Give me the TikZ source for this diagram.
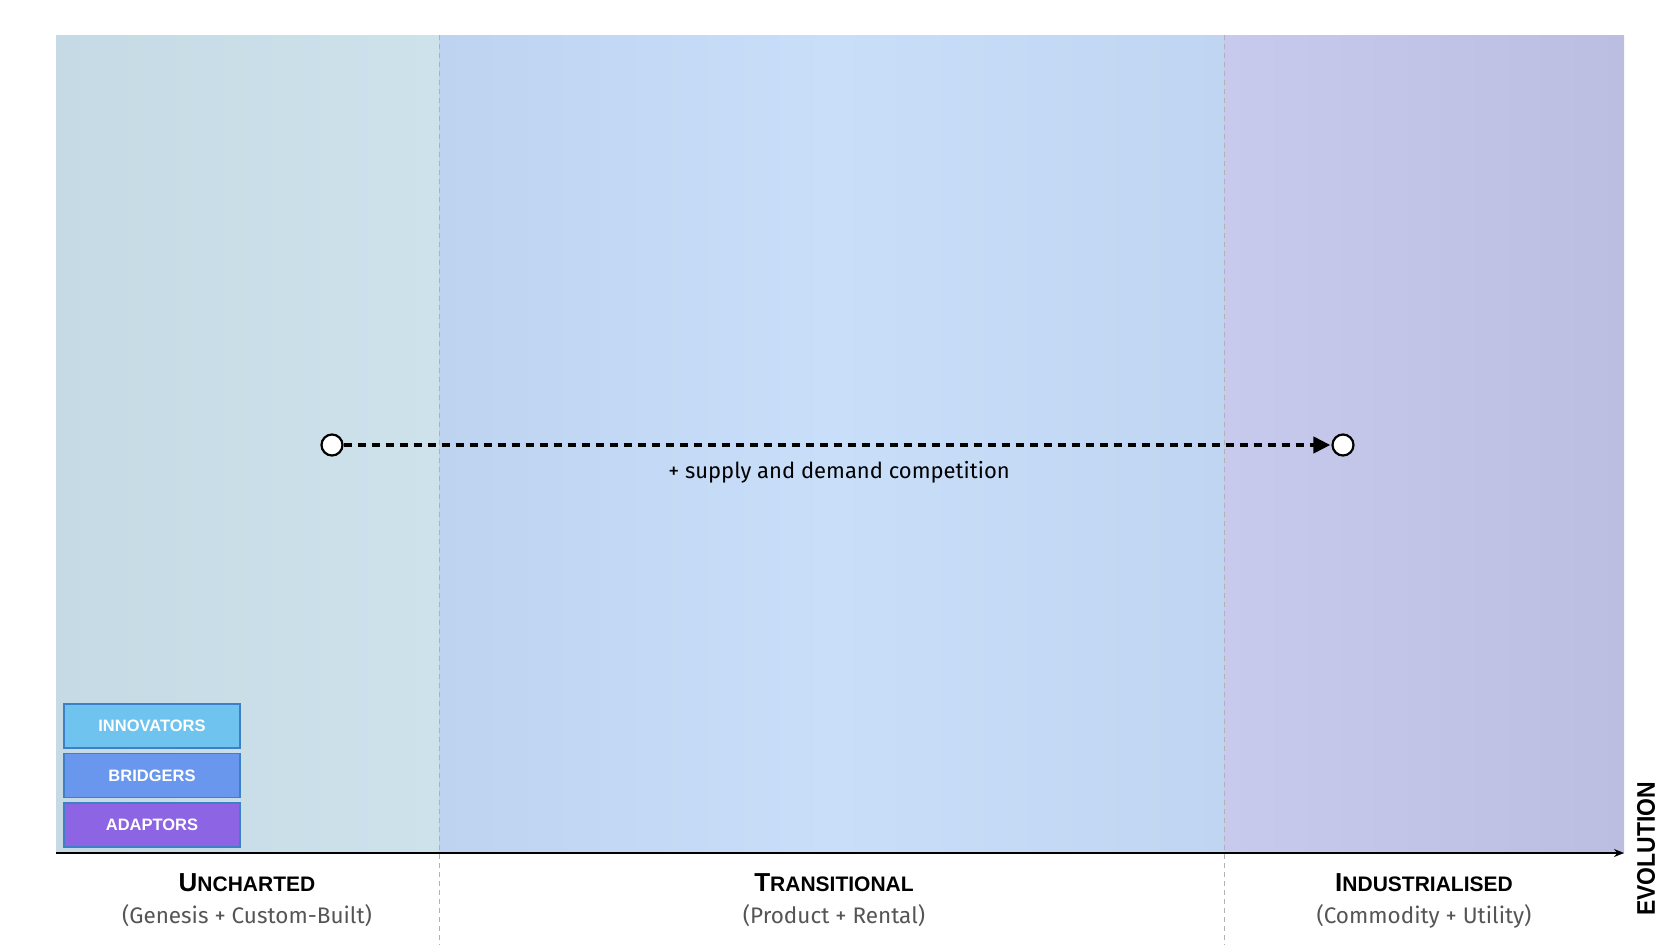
\documentclass[tikz,border=0pt]{standalone}
\usepackage{fontspec}
\setmainfont{Liberation Sans}
\newfontfamily\subfont{Fira Sans}
\usetikzlibrary{arrows.meta, positioning}
\definecolor{cUnchL}{RGB}{198,218,229}
\definecolor{cUnchR}{RGB}{206,226,236}
\definecolor{cTranL}{RGB}{190,211,240}
\definecolor{cTranM}{RGB}{200,222,249}
\definecolor{cTranR}{RGB}{192,213,241}
\definecolor{cIndL}{RGB}{199,201,237}
\definecolor{cIndR}{RGB}{188,190,225}
\definecolor{cInnov}{RGB}{110,196,238}
\definecolor{cBridge}{RGB}{106,151,238}
\definecolor{cAdapt}{RGB}{140,100,228}
\definecolor{cEdge}{RGB}{62,128,200}
\definecolor{cSub}{RGB}{85,85,85}
\newcommand{\fakesc}[2]{{\fontsize{26}{26}\selectfont #1}{\fontsize{21}{21}\selectfont #2}}
\tikzset{
	party/.style  ={rectangle, draw=cEdge, line width=1.5pt, minimum width=176pt, minimum height=44pt, inner sep=0pt,
		text=white, font=\fontsize{16.5}{16.5}\selectfont\bfseries},
	stage/.style  ={font=\bfseries, inner sep=0pt, text=black},
	stagesub/.style={font=\subfont\fontsize{22.5}{22.5}\selectfont, text=cSub, inner sep=0pt},
	divider/.style={draw=black!30, line width=1pt, dash pattern=on 5pt off 4pt},
	ring/.style   ={circle, draw=black, line width=2.2pt, fill=white, minimum size=21pt, inner sep=0pt},
	flowarrow/.style={-{Triangle[length=17pt, width=16pt]}, line width=4pt, dash pattern=on 8pt off 6pt, shorten >=1pt},
}
\begin{document}
\begin{tikzpicture}[x=1pt, y=-1pt, node distance=4pt]
	\useasboundingbox (0,0) rectangle (1680,945);
	\fill[white] (0,0) rectangle (1680,945);
	% stage backgrounds
	\shade[left color=cUnchL, right color=cUnchR] (56,35) rectangle (439,853);
	\shade[left color=cTranL, right color=cTranR, middle color=cTranM] (439,35) rectangle (1224,853);
	\shade[left color=cIndL, right color=cIndR] (1224,35) rectangle (1624,853);
	\draw[divider] (439,35) -- (439,945);
	\draw[divider] (1224,35) -- (1224,945);
	% axis
	\coordinate (ax0) at (56,853);
	\coordinate (ax1) at (1624,853);
	\draw[-{Stealth[length=10pt, width=8pt]}, line width=2pt] (ax0) -- (ax1);
	\node[font=\bfseries\fontsize{25.5}{25.5}\selectfont, rotate=90, xscale=0.9] (evo) at (1646,849) {EVOLUTION};
	% movement
	\node[ring] (p0) at (332,445) {};
	\node[ring] (p1) at (1343,445) {};
	\draw[flowarrow] (p0) -- (p1);
	\node[font=\subfont\fontsize{22}{22}\selectfont, text=black] (comp) at (839,472) {+ supply and demand competition};
	% parties
	\node[party, fill=cInnov] (innov) at (152,726) {INNOVATORS};
	\node[party, fill=cBridge, below=of innov] (bridge) {BRIDGERS};
	\node[party, fill=cAdapt, below=of bridge] (adapt) {ADAPTORS};
	% stage labels
	\node[stage] (unch) at (247,883) {\fakesc{U}{NCHARTED}};
	\node[stagesub] (unchsub) at (247,916) {(Genesis + Custom-Built)};
	\node[stage] (tran) at (834,883) {\fakesc{T}{RANSITIONAL}};
	\node[stagesub] (transub) at (834,916) {(Product + Rental)};
	\node[stage] (ind) at (1424,883) {\fakesc{I}{NDUSTRIALISED}};
	\node[stagesub] (indsub) at (1424,916) {(Commodity + Utility)};
\end{tikzpicture}
\end{document}
